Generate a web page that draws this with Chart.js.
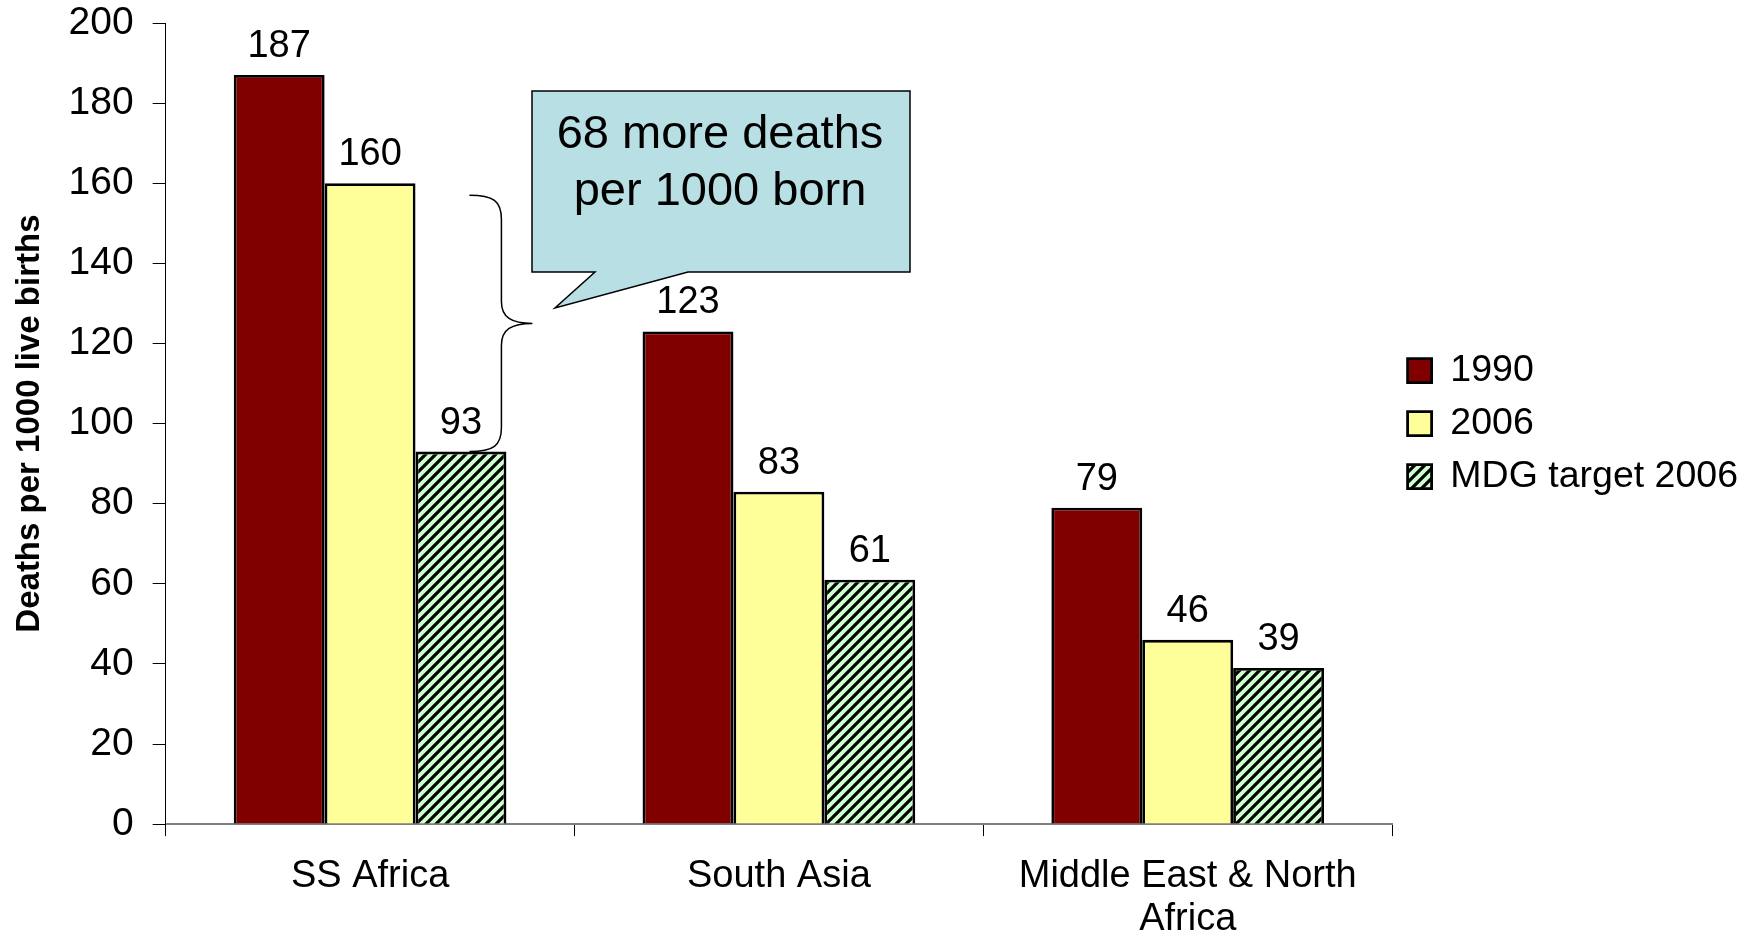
<!DOCTYPE html>
<html>
<head>
<meta charset="utf-8">
<script src="https://cdn.jsdelivr.net/npm/chart.js@4"></script>
<style>
  html, body { margin: 0; padding: 0; background: #fff; overflow: hidden; }
  #wrap { position: absolute; left: 0; top: 0; width: 1748px; height: 960px; }
</style>
</head>
<body>
<div id="wrap"><canvas id="mortChart" width="1748" height="960"></canvas></div>
<script>
// -----------------------------
// Data
// -----------------------------
const regions = ["SS Africa", "South Asia", ["Middle East & North", "Africa"]];
const deaths1990 = [187, 123, 79];
const deaths2006 = [160, 83, 46];
const mdgTarget2006 = [93, 61, 39];
const yTicks = [0, 20, 40, 60, 80, 100, 120, 140, 160, 180, 200];
const calloutLines = ["68 more deaths", "per 1000 born"];

const FONT = "'Liberation Sans', Arial, sans-serif";

// -----------------------------
// Hatch pattern for the MDG bars
// -----------------------------
function makeHatch() {
  const s = 10;
  const c = document.createElement("canvas");
  c.width = s;
  c.height = s;
  const g = c.getContext("2d");
  g.fillStyle = "#CCFFCC";
  g.fillRect(0, 0, s, s);
  g.strokeStyle = "#000";
  g.lineWidth = 3.2;
  g.beginPath();
  g.moveTo(-1, s + 1); g.lineTo(s + 1, -1);
  g.moveTo(-3, 3); g.lineTo(3, -3);
  g.moveTo(s - 3, s + 3); g.lineTo(s + 3, s - 3);
  g.stroke();
  return g.createPattern(c, "repeat");
}

// -----------------------------
// Value labels, brace and callout
// -----------------------------
const extrasPlugin = {
  id: "extras",
  afterDatasetsDraw(chart) {
    const ctx = chart.ctx;
    const y = chart.scales.y;
    ctx.save();

    // numbers above the bars
    ctx.fillStyle = "#000";
    ctx.font = "38px " + FONT;
    ctx.textAlign = "center";
    ctx.textBaseline = "alphabetic";
    chart.data.datasets.forEach((ds, i) => {
      chart.getDatasetMeta(i).data.forEach((bar, j) => {
        ctx.fillText(String(ds.data[j]), bar.x, bar.y - 18);
      });
    });

    // curly brace between the 2006 value and the MDG target (SS Africa)
    const mdgBar = chart.getDatasetMeta(2).data[0];
    const x0 = mdgBar.x + mdgBar.width / 2 - 5;
    const xe = x0 - 32;
    const xt = x0 + 31;
    const yTop = y.getPixelForValue(deaths2006[0]) + 12;
    const yBot = y.getPixelForValue(mdgTarget2006[0]);
    const ym = (yTop + yBot) / 2;
    ctx.strokeStyle = "#000";
    ctx.lineWidth = 1.5;
    ctx.beginPath();
    ctx.moveTo(xe, yTop);
    ctx.bezierCurveTo(x0 - 8, yTop, x0, yTop + 6, x0, yTop + 24);
    ctx.lineTo(x0, ym - 22);
    ctx.bezierCurveTo(x0, ym - 6, x0 + 10, ym, xt, ym);
    ctx.bezierCurveTo(x0 + 10, ym, x0, ym + 6, x0, ym + 22);
    ctx.lineTo(x0, yBot - 24);
    ctx.bezierCurveTo(x0, yBot - 6, x0 - 8, yBot, xe, yBot);
    ctx.stroke();

    // speech-bubble callout
    const bx = 532, by = 91, bw = 378, bh = 181;
    ctx.beginPath();
    ctx.moveTo(bx, by);
    ctx.lineTo(bx + bw, by);
    ctx.lineTo(bx + bw, by + bh);
    ctx.lineTo(bx + 156, by + bh);
    ctx.lineTo(555, 308);
    ctx.lineTo(bx + 63, by + bh);
    ctx.lineTo(bx, by + bh);
    ctx.closePath();
    ctx.fillStyle = "#B8DFE3";
    ctx.fill();
    ctx.lineWidth = 1.5;
    ctx.strokeStyle = "#000";
    ctx.stroke();

    ctx.fillStyle = "#000";
    ctx.font = "47px " + FONT;
    ctx.textAlign = "center";
    ctx.fillText(calloutLines[0], 720, 148);
    ctx.fillText(calloutLines[1], 720, 205);

    ctx.restore();
  }
};

// -----------------------------
// Chart
// -----------------------------
const ctx = document.getElementById("mortChart").getContext("2d");

const mortChart = new Chart(ctx, {
  type: "bar",
  data: {
    labels: regions,
    datasets: [
      {
        label: "1990",
        data: deaths1990,
        backgroundColor: "#800000",
        borderColor: "#000",
        borderWidth: 2.8
      },
      {
        label: "2006",
        data: deaths2006,
        backgroundColor: "#FFFF99",
        borderColor: "#000",
        borderWidth: 2.8
      },
      {
        label: "MDG target 2006",
        data: mdgTarget2006,
        backgroundColor: makeHatch(),
        borderColor: "#000",
        borderWidth: 2.8
      }
    ]
  },
  options: {
    responsive: false,
    animation: false,
    categoryPercentage: 0.667,
    barPercentage: 1.0,
    layout: {
      padding: { top: 23, left: 0, right: 0, bottom: 0 }
    },
    plugins: {
      tooltip: { enabled: false },
      legend: {
        position: "right",
        fullSize: false,
        labels: {
          color: "#000",
          font: { family: FONT, size: 37.5 },
          boxWidth: 24,
          boxHeight: 24,
          padding: 15.5
        }
      }
    },
    scales: {
      x: {
        border: { color: "#808080", width: 2 },
        grid: {
          offset: true,
          drawOnChartArea: false,
          drawTicks: true,
          tickLength: 12,
          color: "#000",
          lineWidth: 1
        },
        ticks: {
          color: "#000",
          font: { family: FONT, size: 38, lineHeight: 1.13 },
          padding: 19,
          maxRotation: 0
        }
      },
      y: {
        min: 0,
        max: 200,
        afterBuildTicks: axis => {
          axis.ticks = yTicks.map(v => ({ value: v }));
        },
        afterFit: axis => {
          // let the layout padding decide the top of the plot
          axis.paddingTop = 0;
          axis.paddingBottom = 0;
        },
        border: { color: "#000", width: 1 },
        grid: {
          drawOnChartArea: false,
          drawTicks: true,
          tickLength: 13,
          color: "#000",
          lineWidth: 1
        },
        ticks: {
          color: "#000",
          font: { family: FONT, size: 39 },
          padding: 19
        },
        title: {
          display: true,
          text: "Deaths per 1000 live births",
          color: "#000",
          font: { family: FONT, size: 33, weight: "bold" },
          padding: { top: 10, bottom: 0 }
        }
      }
    }
  },
  plugins: [extrasPlugin]
});
</script>
</body>
</html>
